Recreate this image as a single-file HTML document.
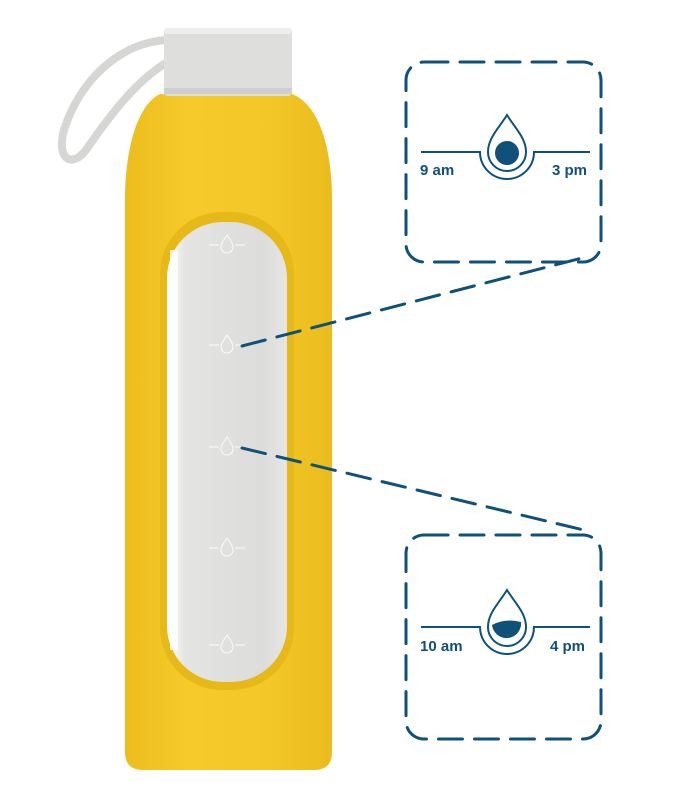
<!DOCTYPE html>
<html><head><meta charset="utf-8"><style>
html,body{margin:0;padding:0;background:#fff;}
svg{display:block;}
text{font-family:"Liberation Sans",sans-serif;}
</style></head><body>
<svg width="686" height="787" viewBox="0 0 686 787" xmlns="http://www.w3.org/2000/svg">
<defs>
<linearGradient id="by" x1="0" x2="1" y1="0" y2="0">
<stop offset="0" stop-color="#ecbd1c"/><stop offset="0.3" stop-color="#f6ca2c"/><stop offset="0.7" stop-color="#f3c727"/><stop offset="1" stop-color="#eabc1d"/>
</linearGradient>
<linearGradient id="gl" x1="0" x2="1" y1="0" y2="0">
<stop offset="0" stop-color="#ffffff"/><stop offset="0.15" stop-color="#e4e4e2"/><stop offset="0.8" stop-color="#dcdcda"/><stop offset="1" stop-color="#e6e6e4"/>
</linearGradient>
</defs>
<!-- strap -->
<path d="M168 40 C120 42 80 80 64 130 C56 160 72 168 86 150 C110 115 140 75 175 58" fill="none" stroke="#d6d6d4" stroke-width="8" stroke-linecap="round"/>
<!-- bottle body -->
<path d="M160 94 L292 94 C320 105 332 150 332 200 L332 752 Q332 770 314 770 L143 770 Q125 770 125 752 L125 200 C125 150 137 105 160 94 Z" fill="url(#by)"/>
<!-- cap -->
<rect x="164" y="28" width="128" height="68" rx="4" fill="#dededc"/>
<rect x="164" y="28" width="128" height="6" rx="3" fill="#eeeeec"/>
<rect x="164" y="88" width="128" height="6" fill="#cfcfcd"/>
<!-- window recess -->
<rect x="160" y="212" width="134" height="478" rx="62" fill="#e6b818"/>
<rect x="167" y="222" width="120" height="460" rx="56" fill="url(#gl)"/>
<rect x="170" y="250" width="8" height="400" fill="#fff" opacity="0.8"/>
<!-- markers -->
<g fill="none" stroke="#fff" stroke-width="1" opacity="0.9">
<g transform="translate(227,245)"><path d="M-18 0 H-8 M8 0 H18"/><path d="M0 -10 C4 -4 6 -1 6 2 A6 6 0 0 1 -6 2 C-6 -1 -4 -4 0 -10Z"/></g>
<g transform="translate(227,345)"><path d="M-18 0 H-8 M8 0 H18"/><path d="M0 -10 C4 -4 6 -1 6 2 A6 6 0 0 1 -6 2 C-6 -1 -4 -4 0 -10Z"/></g>
<g transform="translate(227,447)"><path d="M-18 0 H-8 M8 0 H18"/><path d="M0 -10 C4 -4 6 -1 6 2 A6 6 0 0 1 -6 2 C-6 -1 -4 -4 0 -10Z"/></g>
<g transform="translate(227,548)"><path d="M-18 0 H-8 M8 0 H18"/><path d="M0 -10 C4 -4 6 -1 6 2 A6 6 0 0 1 -6 2 C-6 -1 -4 -4 0 -10Z"/></g>
<g transform="translate(227,645)"><path d="M-18 0 H-8 M8 0 H18"/><path d="M0 -10 C4 -4 6 -1 6 2 A6 6 0 0 1 -6 2 C-6 -1 -4 -4 0 -10Z"/></g>
</g>
<!-- boxes -->
<g fill="none" stroke="#0f5179" stroke-width="3" stroke-dasharray="24 12" stroke-linecap="round">
<rect x="406" y="62" width="195" height="200" rx="18"/>
<rect x="406" y="535" width="195" height="204" rx="18"/>
<path d="M242 346 L582 258"/>
<path d="M242 448 L592 532"/>
</g>
<!-- top icon -->
<g stroke="#0f5179" stroke-width="2" fill="none">
<path d="M421 152 H480 A27 27 0 0 0 534 152 H590"/>
<path d="M507 115 C515 128 526 138 526 152 A19 19 0 0 1 488 152 C488 138 499 128 507 115 Z"/>
</g>
<circle cx="507" cy="153" r="12" fill="#0f5179"/>
<text x="420" y="175" font-size="15" font-weight="bold" fill="#0f5179">9 am</text>
<text x="552" y="175" font-size="15" font-weight="bold" fill="#0f5179">3 pm</text>
<!-- bottom icon -->
<g stroke="#0f5179" stroke-width="2" fill="none">
<path d="M421 627 H480 A27 27 0 0 0 534 627 H590"/>
<path d="M507 590 C515 603 526 613 526 627 A19 19 0 0 1 488 627 C488 613 499 603 507 590 Z"/>
</g>
<path d="M492 625 Q505 618 521 622 A14 14 0 0 1 492 625 Z" fill="#0f5179"/>
<text x="420" y="651" font-size="15" font-weight="bold" fill="#0f5179">10 am</text>
<text x="550" y="651" font-size="15" font-weight="bold" fill="#0f5179">4 pm</text>
</svg>
</body></html>
